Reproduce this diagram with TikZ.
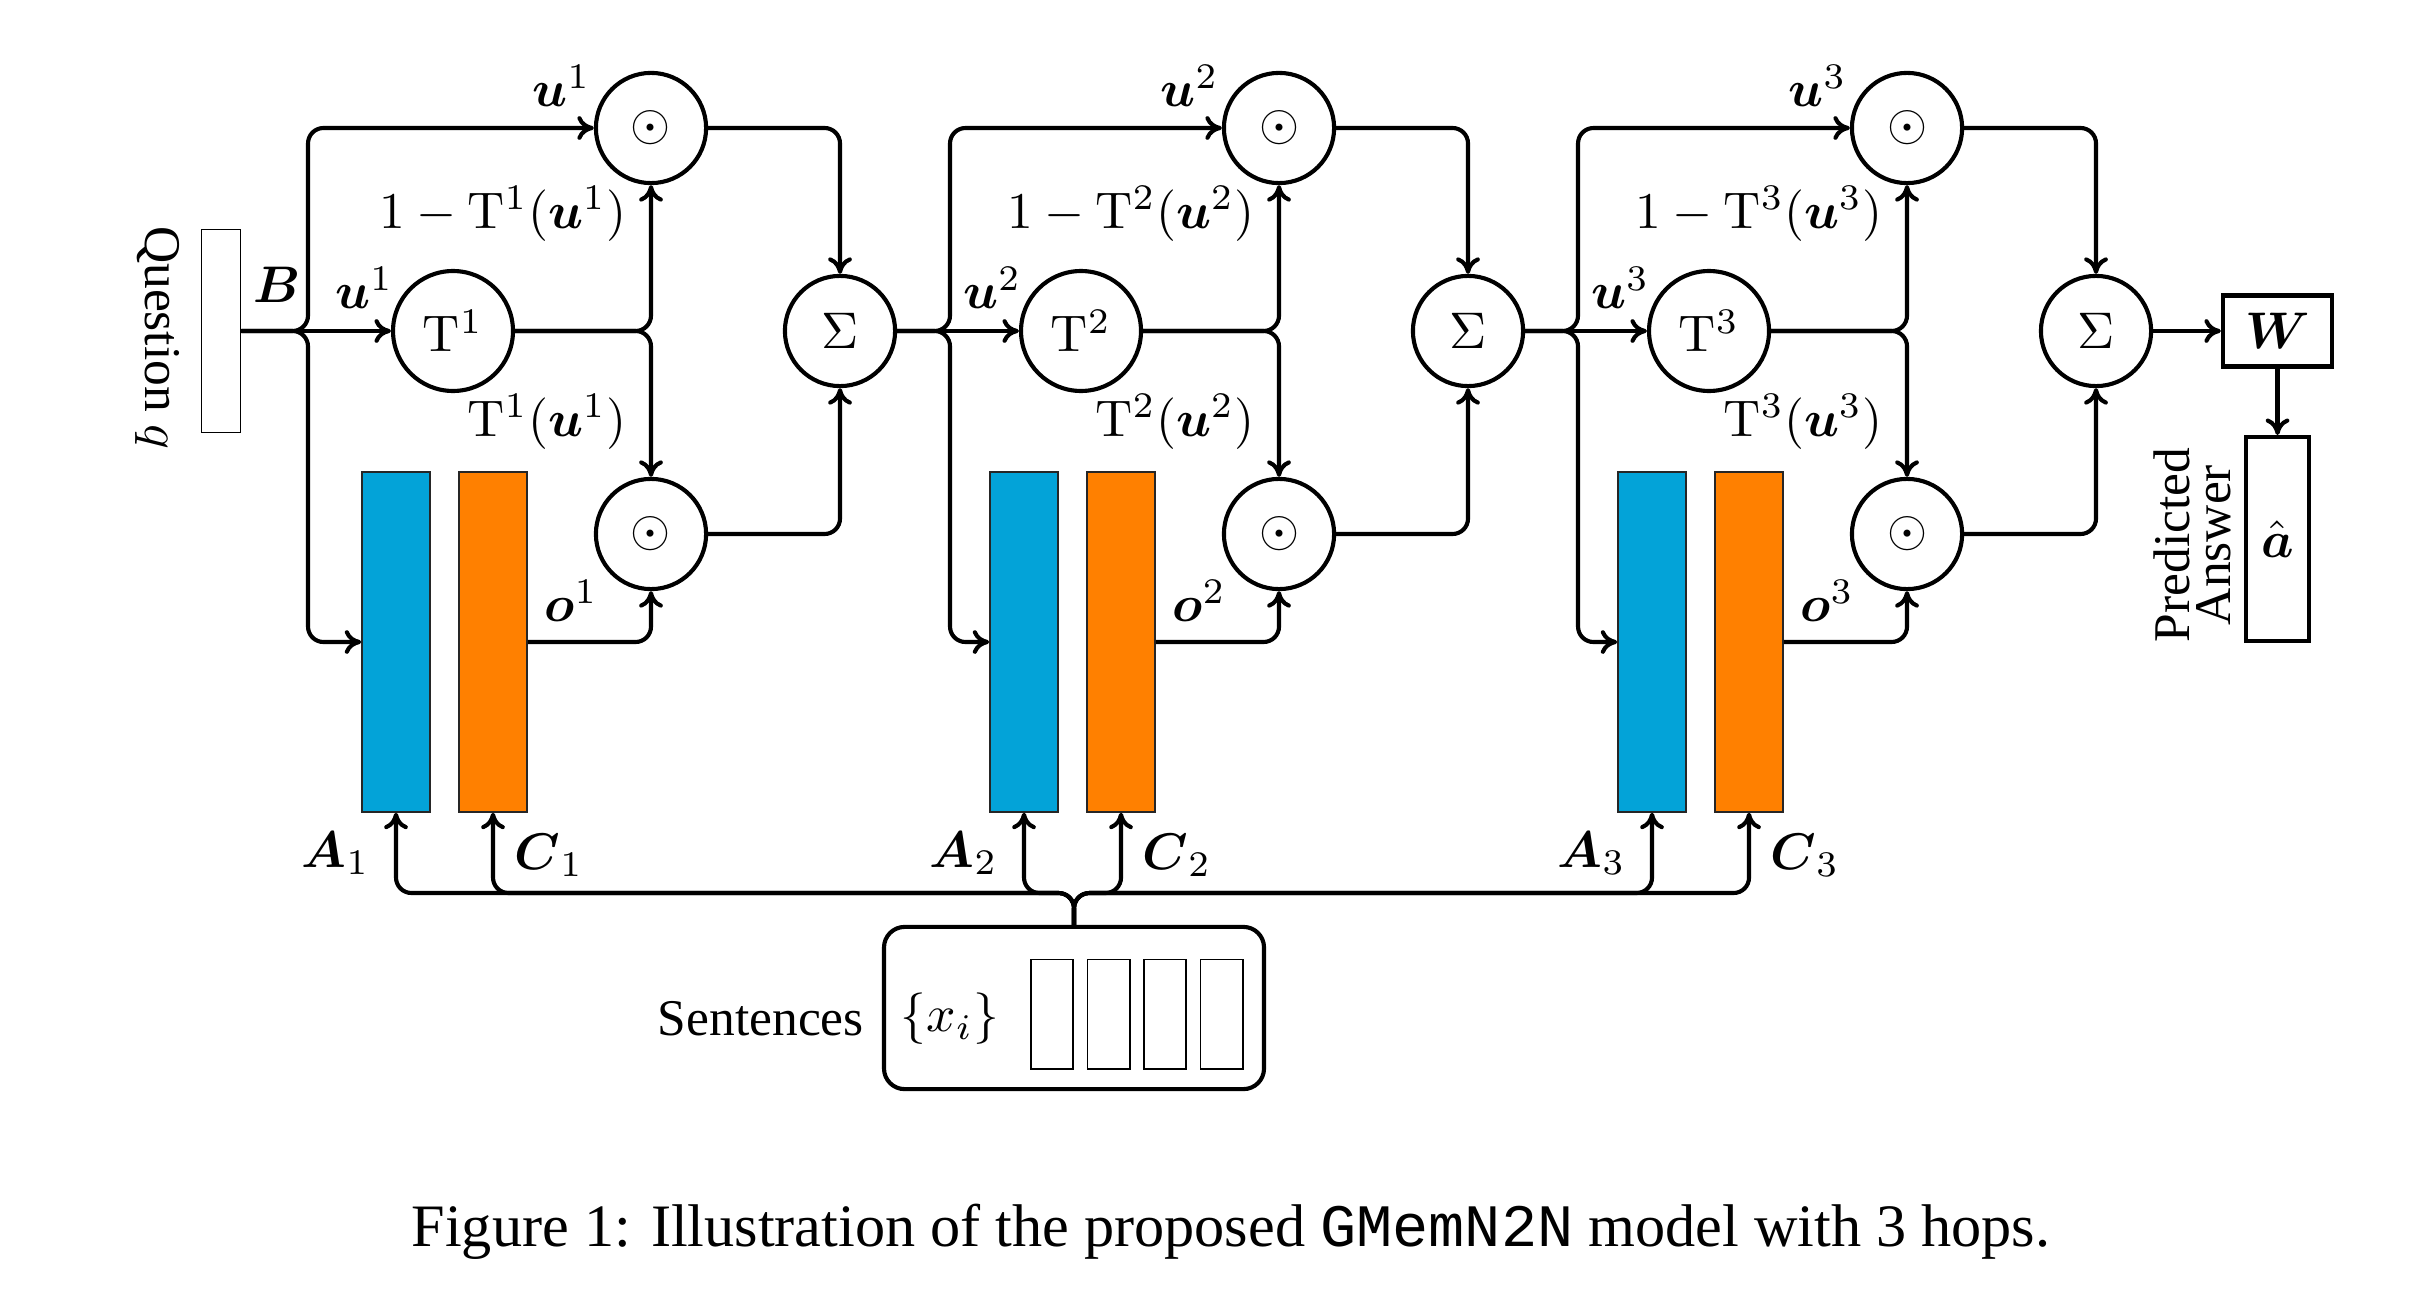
\documentclass[tikz,border=0pt]{standalone}
\usepackage{amsmath}
\usepackage[no-math]{fontspec}
\setmainfont{Liberation Serif}
\setmonofont{Liberation Mono}
\usetikzlibrary{calc,arrows.meta}
\definecolor{memblue}{RGB}{3,163,216}
\definecolor{memorange}{RGB}{255,128,0}
\tikzset{
  op/.style={circle, draw, thick, minimum size=21.4pt, inner sep=0pt},
  gate/.style={circle, draw, thick, minimum size=23.3pt, inner sep=0pt},
  membar/.style={draw=black!85, line width=0.3pt, minimum width=13.2pt, minimum height=66pt, inner sep=0pt},
  thinbox/.style={draw, line width=0.35pt, inner sep=0pt},
  conn/.style={thick, -{To[length=3.2pt,width=4.6pt]}, rounded corners=3pt},
  lbl/.style={inner sep=0pt},
}
\begin{document}
\begin{tikzpicture}[x=0.1942pt, y=-0.1942pt, font=\fontsize{10}{12}\selectfont]
        \useasboundingbox (0,0) rectangle (2420,1296);
        \node[thinbox, minimum width=7.6pt, minimum height=39.4pt] (qbox) at (221,331) {};
        \node[rotate=-90] (qtext) at (158,338) {Question $q$};
        \node[lbl, anchor=south west] (blbl) at ([xshift=2.1pt,yshift=5.4pt]qbox.east) {$\boldsymbol{B}$};
        \node[draw, thick, rounded corners=4pt, minimum width=73.8pt, minimum height=31.5pt] (sent) at (1074,1008) {};
        \node[anchor=east] (senttxt) at ([yshift=-2pt]sent.west) {Sentences};
        \node (xset) at (950,1019) {$\{x_i\}$};
        \foreach \k in {0,...,3}
            \node[thinbox, minimum width=8.2pt, minimum height=21.2pt] (s\k) at ({1052+56.5*\k},1014) {};
        \coordinate (bus) at (0,893);
        \foreach \i/\src/\bx in {1/qbox/308, 2/S1/950, 3/S2/1578} {
            \pgfmathsetmacro{\xt}{453+628*(\i-1)}
            \pgfmathsetmacro{\xd}{651+628*(\i-1)}
            \pgfmathsetmacro{\xs}{840+628*(\i-1)}
            \pgfmathsetmacro{\xa}{396+628*(\i-1)}
            \pgfmathsetmacro{\xc}{493+628*(\i-1)}
            \node[gate] (T\i) at (\xt,331) {$\mathrm{T}^\i$};
            \node[op] (dt\i) at (\xd,128) {$\odot$};
            \node[op] (db\i) at (\xd,534) {$\odot$};
            \node[op] (S\i) at (\xs,331) {$\Sigma$};
            \node[membar, fill=memblue] (A\i) at (\xa,642) {};
            \node[membar, fill=memorange] (C\i) at (\xc,642) {};
            \coordinate (br\i) at (\bx,331);
            \draw[conn] (\src.east) -- (T\i.west);
            \draw[conn] (\src.east) -- (br\i) |- (dt\i.west);
            \draw[conn] (\src.east) -- (br\i) |- (A\i.west);
            \draw[conn] (T\i.east) -| (dt\i.south);
            \draw[conn] (T\i.east) -| (db\i.north);
            \draw[conn] (C\i.east) -| (db\i.south);
            \draw[conn] (dt\i.east) -| (S\i.north);
            \draw[conn] (db\i.east) -| (S\i.south);
            \draw[conn] (sent.north) |- (A\i.south |- bus) -- (A\i.south);
            \draw[conn] (sent.north) |- (C\i.south |- bus) -- (C\i.south);
            \node[lbl, anchor=south east] (ut\i) at ([xshift=-0.4pt,yshift=3.9pt]dt\i.west) {$\boldsymbol{u}^\i$};
            \node[lbl, anchor=south east] (ui\i) at ([xshift=0.7pt,yshift=4.1pt]T\i.west) {$\boldsymbol{u}^\i$};
            \node[lbl, anchor=north east] (gu\i) at ([xshift=-4.6pt]dt\i.south) {$1-\mathrm{T}^\i(\boldsymbol{u}^\i)$};
            \node[lbl, anchor=south east] (gd\i) at ([xshift=-4.6pt,yshift=5.2pt]db\i.north) {$\mathrm{T}^\i(\boldsymbol{u}^\i)$};
            \node[lbl, anchor=south west] (o\i) at ([xshift=3.1pt,yshift=3.7pt]C\i.east) {$\boldsymbol{o}^\i$};
            \node[lbl, anchor=north east] (al\i) at ([xshift=-4.9pt,yshift=-3.5pt]A\i.south) {$\boldsymbol{A}_\i$};
            \node[lbl, anchor=north west] (cl\i) at ([xshift=4pt,yshift=-3.9pt]C\i.south) {$\boldsymbol{C}_\i$};
        }
        \node[draw, thick, minimum width=21.2pt, minimum height=13.8pt, inner sep=0pt] (W) at (2277.5,331) {$\boldsymbol{W}$};
        \node[draw, thick, minimum width=12.2pt, minimum height=39.6pt, inner sep=0pt] (ans) at (2277.5,539) {$\hat{\boldsymbol{a}}$};
        \node[rotate=90, align=center] (predlbl) at (2192,545) {Predicted\\[-4pt]Answer};
        \draw[conn] (S3.east) -- (W.west);
        \draw[conn] (W.south) -- (ans.north);
        \node[font=\fontsize{11.7}{14}\selectfont] (caption) at (1231,1232) {Figure 1: Illustration of the proposed \texttt{GMemN2N} model with 3 hops.};
    \end{tikzpicture}
\end{document}
